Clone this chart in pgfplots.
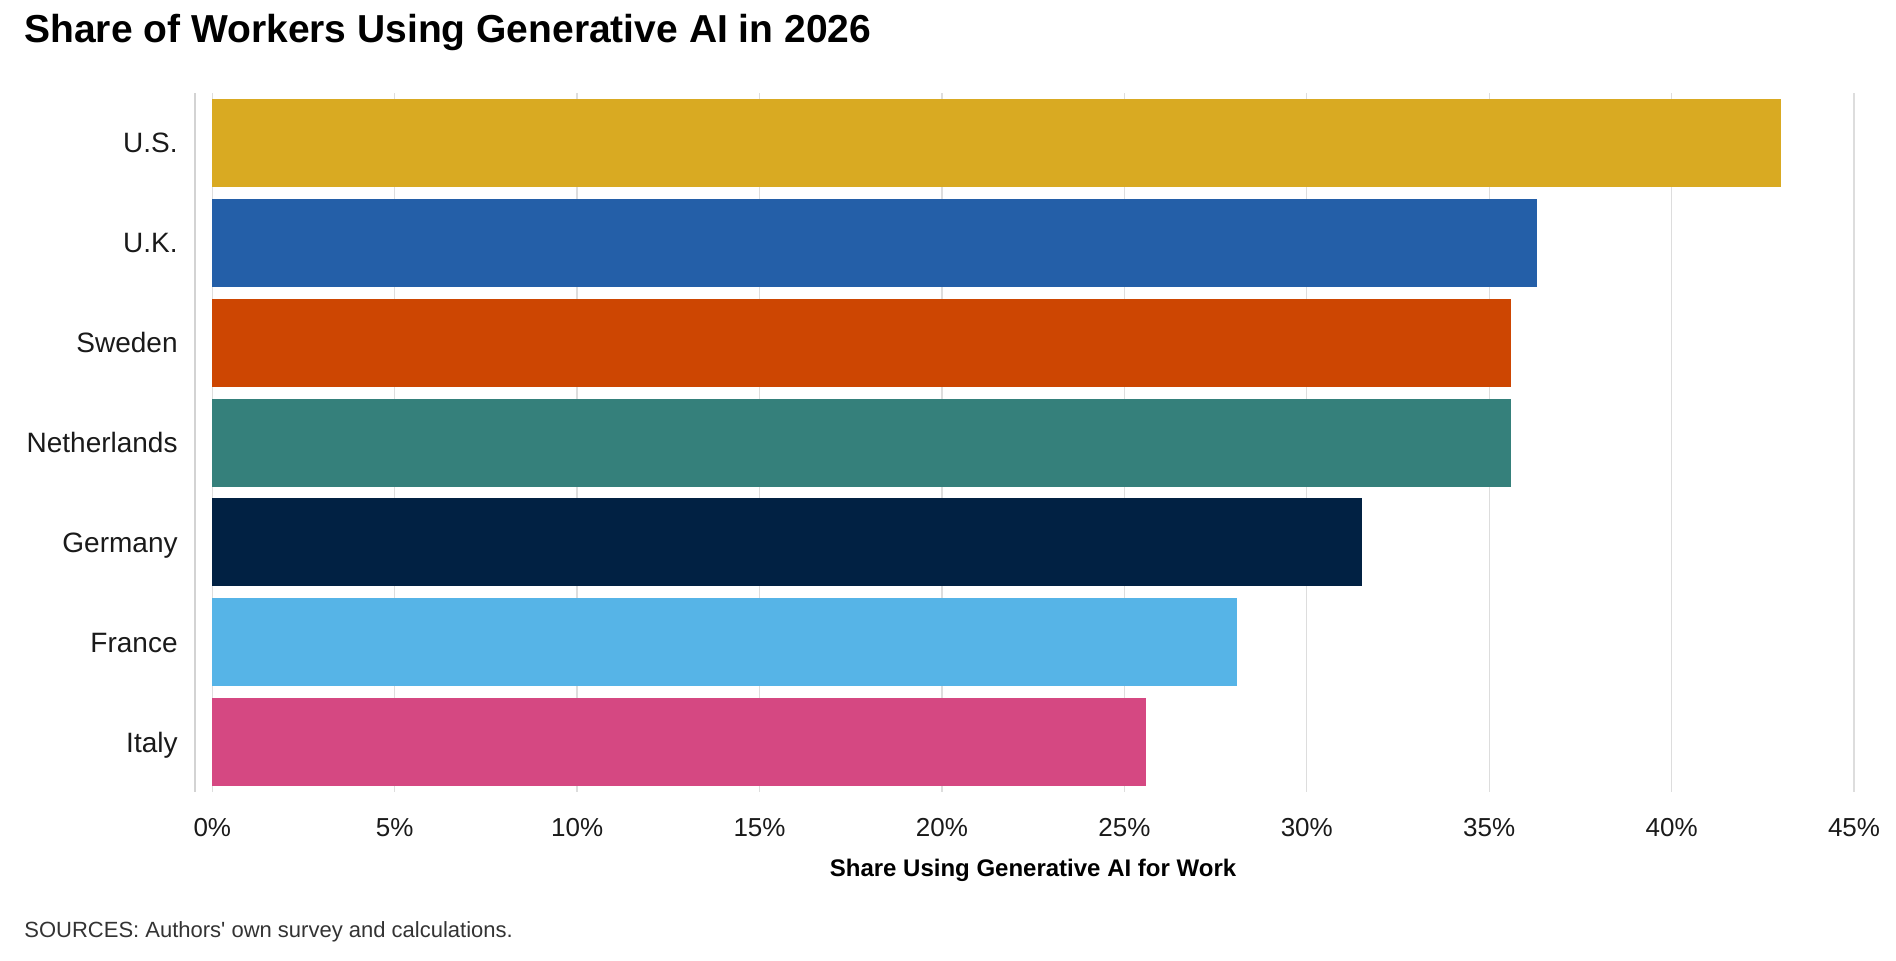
\documentclass[border=0pt]{standalone}
\usepackage{fontspec}
\setmainfont{Liberation Sans}
\usepackage{pgfplots}
\pgfplotsset{compat=1.18}

\definecolor{cUS}{HTML}{D9AA22}
\definecolor{cUK}{HTML}{245FA8}
\definecolor{cSE}{HTML}{CD4602}
\definecolor{cNL}{HTML}{35807B}
\definecolor{cDE}{HTML}{012143}
\definecolor{cFR}{HTML}{56B4E7}
\definecolor{cIT}{HTML}{D54882}
\definecolor{gridgray}{HTML}{DDDDDD}
\definecolor{axgray}{HTML}{D3D3D3}
\definecolor{txt}{HTML}{1A1A1A}

\begin{document}
\begin{tikzpicture}
% page = 1896 x 961 px at 0.5pt per px
\path[use as bounding box] (0,0) rectangle (948pt,-480.5pt);

\node[anchor=base west, inner sep=0pt, font=\fontsize{19.5}{22}\selectfont\bfseries]
  at (12pt,-21.5pt) {Share of Workers Using Generative AI in 2026};

\begin{axis}[
  at={(97.5pt,-396pt)}, anchor=south west,
  scale only axis, width=829.5pt, height=349.5pt,
  xmin=-0.474, xmax=45, ymin=-0.5, ymax=6.5, y dir=reverse,
  xbar, bar width=44pt, bar shift=0pt,
  xtick={0,5,...,45}, ytick={0,...,6},
  yticklabels={U.S.,U.K.,Sweden,Netherlands,Germany,France,Italy},
  xticklabel={\pgfmathprintnumber{\tick}\%},
  /pgf/number format/assume math mode=true,
  major tick length=0pt,
  axis x line*=bottom, axis y line*=left,
  x axis line style={draw=none},
  y axis line style={draw=axgray, line width=1pt},
  xmajorgrids, grid style={draw=gridgray, line width=0.65pt},
  xticklabel style={font=\fontsize{13}{15}\selectfont, text=txt, anchor=base, inner sep=0pt, yshift=-22pt},
  yticklabel style={font=\fontsize{14}{16}\selectfont, text=txt, anchor=base east, inner sep=0pt, xshift=-8.5pt, yshift=-5pt},
  every axis plot/.append style={draw=none},
]
\addplot[fill=cUS] coordinates {(43.0,0)};
\addplot[fill=cUK] coordinates {(36.3,1)};
\addplot[fill=cSE] coordinates {(35.6,2)};
\addplot[fill=cNL] coordinates {(35.6,3)};
\addplot[fill=cDE] coordinates {(31.5,4)};
\addplot[fill=cFR] coordinates {(28.1,5)};
\addplot[fill=cIT] coordinates {(25.6,6)};
\end{axis}

\node[anchor=base, inner sep=0pt, font=\fontsize{12}{14}\selectfont\bfseries]
  at (516.5pt,-438.3pt) {Share Using Generative AI for Work};

\node[anchor=base west, inner sep=0pt, font=\fontsize{11}{13}\selectfont, text=black!80]
  at (12pt,-468.5pt) {SOURCES: Authors\textquotesingle{} own survey and calculations.};
\end{tikzpicture}
\end{document}
